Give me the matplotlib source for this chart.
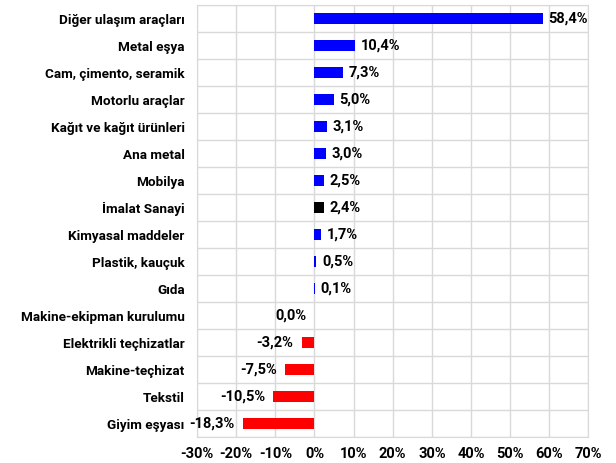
import matplotlib
matplotlib.use("Agg")
import matplotlib.pyplot as plt
from matplotlib.ticker import FixedLocator

categories = [
    "Diğer ulaşım araçları", "Metal eşya", "Cam, çimento, seramik",
    "Motorlu araçlar", "Kağıt ve kağıt ürünleri", "Ana metal", "Mobilya",
    "İmalat Sanayi", "Kimyasal maddeler", "Plastik, kauçuk", "Gıda",
    "Makine-ekipman kurulumu", "Elektrikli teçhizatlar", "Makine-teçhizat",
    "Tekstil", "Giyim eşyası",
]
values = [58.4, 10.4, 7.3, 5.0, 3.1, 3.0, 2.5, 2.4, 1.7, 0.5, 0.1,
          0.0, -3.2, -7.5, -10.5, -18.3]
highlight = "İmalat Sanayi"
xticks = [-30, -20, -10, 0, 10, 20, 30, 40, 50, 60, 70]

plt.rcParams["font.family"] = ["Roboto", "DejaVu Sans"]

fig = plt.figure(figsize=(6.16, 4.63), dpi=100)
ax = fig.add_axes([0.320, 0.056, 0.635, 0.933])

n = len(categories)
ypos = list(range(n))
colors = []
for c, v in zip(categories, values):
    if c == highlight:
        colors.append("black")
    elif v < 0:
        colors.append("#ff0000")
    else:
        colors.append("#0000ff")

ax.barh(ypos, values, height=0.42, color=colors, zorder=3)
ax.set_ylim(n - 0.5, -0.5)
ax.set_xlim(-30, 70)

ax.set_xticks(xticks)
ax.set_xticklabels([f"{t}%" for t in xticks], fontsize=10.5, fontweight="bold")
ax.set_yticks(ypos)
ax.set_yticklabels(categories, fontsize=9.7, fontweight="bold")
ax.yaxis.set_minor_locator(FixedLocator([i + 0.5 for i in range(-1, n)]))
ax.tick_params(axis="both", which="both", length=0)
ax.tick_params(axis="x", pad=7)
ax.tick_params(axis="y", pad=9)

ax.grid(axis="x", which="major", color="#d9d9d9", lw=1, zorder=0)
ax.grid(axis="y", which="minor", color="#d9d9d9", lw=1, zorder=0)
for s in ax.spines.values():
    s.set_color("#d9d9d9")

for y, v in zip(ypos, values):
    txt = f"{v:.1f}%".replace(".", ",")
    if v > 0:
        ax.annotate(txt, (v, y), xytext=(4, 0), textcoords="offset points",
                    ha="left", va="center", fontsize=10.5, fontweight="bold", zorder=4)
    else:
        ax.annotate(txt, (v, y), xytext=(-6, 0), textcoords="offset points",
                    ha="right", va="center", fontsize=10.5, fontweight="bold", zorder=4)

fig.savefig("out.png", dpi=100)
